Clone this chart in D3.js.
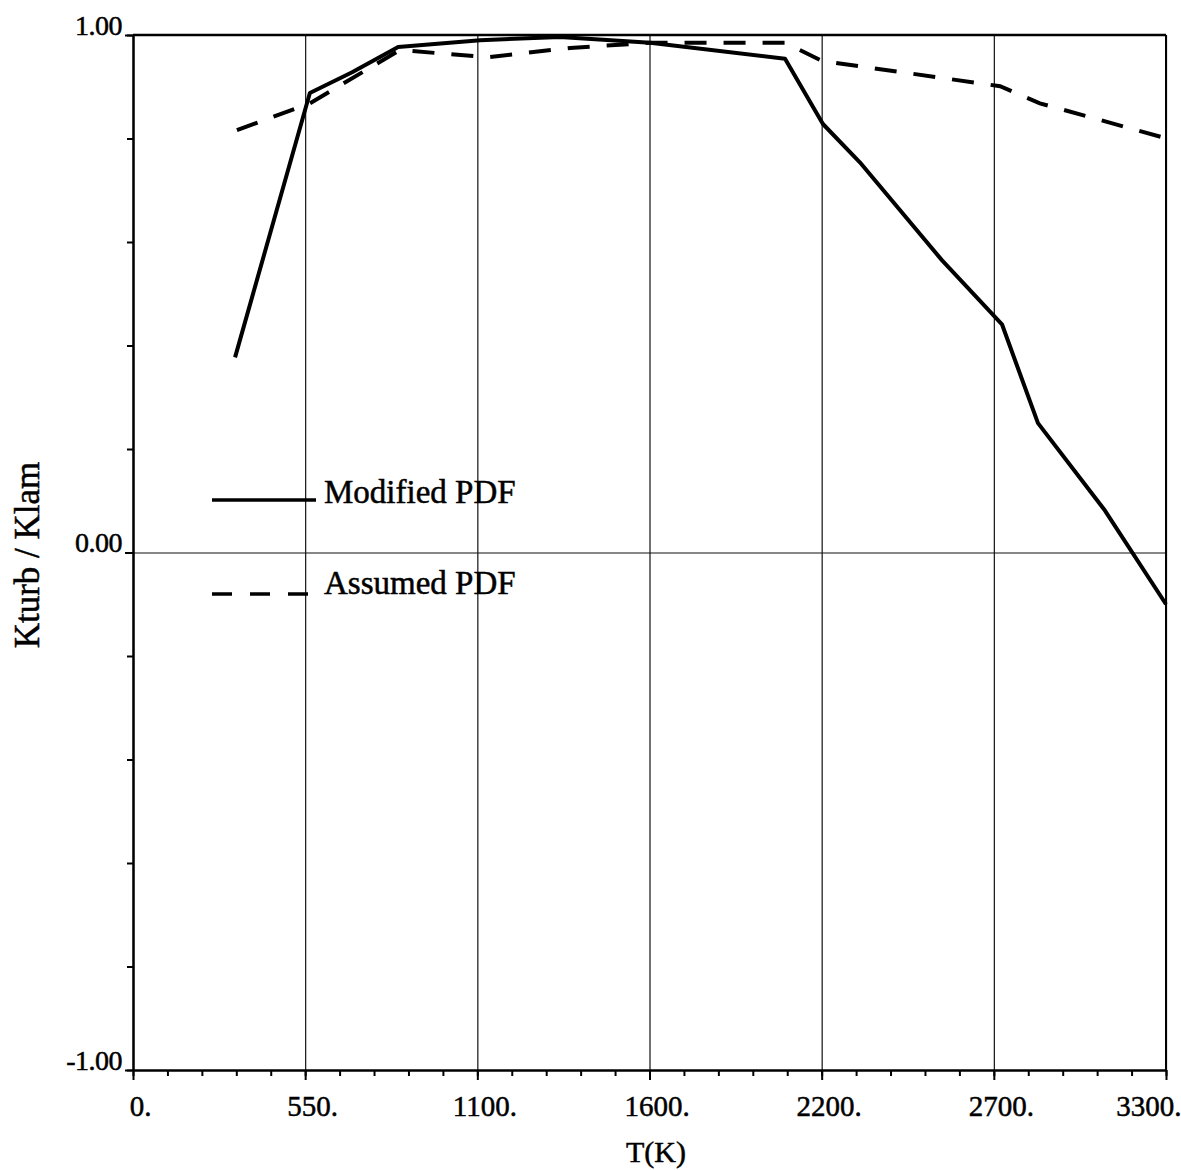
<!DOCTYPE html>
<html>
<head>
<meta charset="utf-8">
<script src="https://cdn.jsdelivr.net/npm/d3@7"></script>
<style>
	body { margin: 0; background: #fff; }
	svg, svg text { font-family: "Liberation Serif", "DejaVu Serif", serif; }
	svg text { fill: #000; stroke: #000; stroke-width: 0.5px; }
</style>
</head>
<body>
<div id="container"></div>
<script>
// values, T(K) vs Kturb/Klam
var modT = [326, 565, 700, 847, 1109, 1364, 1652, 2083, 2204, 2322, 2584, 2776, 2891, 3105, 3300];
var modK = [0.377, 0.888, 0.928, 0.977, 0.990, 0.996, 0.985, 0.954, 0.828, 0.754, 0.565, 0.441, 0.250, 0.081, -0.100];

var assT = [332, 565, 853, 1131, 1396, 1652, 2083, 2201, 2770, 2897, 3297];
var assK = [0.816, 0.868, 0.971, 0.957, 0.975, 0.985, 0.985, 0.950, 0.901, 0.868, 0.801];

var xTicks = [0, 550, 1100, 1650, 2200, 2750, 3300];
var xTickLabels = ["0.", "550.", "1100.", "1600.", "2200.", "2700.", "3300."];
var yTicks = [-1, 0, 1];
var yTickLabels = ["-1.00", "0.00", "1.00"];
var seriesNames = ["Modified PDF", "Assumed PDF"];

var width = 1181,
	height = 1170,
	plotLeft = 133,
	plotRight = 1166,
	plotTop = 35,
	plotBottom = 1070;

var xScale = d3.scaleLinear()
	.domain([0, 3300])
	.range([plotLeft, plotRight]);

var yScale = d3.scaleLinear()
	.domain([-1, 1])
	.range([plotBottom, plotTop]);

var svg = d3.select("#container")
	.append('svg')
		.attr("width", width)
		.attr("height", height);

// vertical grid lines
svg.append("g")
	.attr("transform", "translate(0," + plotBottom + ")")
	.call(d3.axisBottom(xScale).tickValues(xTicks).tickSize(-(plotBottom - plotTop)).tickFormat(""))
	.call(function(g){
		g.select(".domain").remove();
		g.selectAll("line").attr("stroke", "#111").attr("stroke-width", 1.2);
	});

// zero line
svg.append("g")
	.attr("transform", "translate(" + plotLeft + ",0)")
	.call(d3.axisLeft(yScale).tickValues([0]).tickSize(-(plotRight - plotLeft)).tickFormat(""))
	.call(function(g){
		g.select(".domain").remove();
		g.selectAll("line").attr("stroke", "#111").attr("stroke-width", 1.2);
	});

// minor ticks
svg.append("g")
	.attr("transform", "translate(0," + plotBottom + ")")
	.call(d3.axisBottom(xScale).tickValues(d3.range(0, 3301, 110)).tickSize(6).tickFormat(""))
	.call(function(g){
		g.select(".domain").remove();
		g.selectAll("line").attr("stroke", "#000").attr("stroke-width", 2);
	});
svg.append("g")
	.attr("transform", "translate(" + plotLeft + ",0)")
	.call(d3.axisLeft(yScale).tickValues(d3.range(-1, 1.01, 0.2)).tickSize(6).tickFormat(""))
	.call(function(g){
		g.select(".domain").remove();
		g.selectAll("line").attr("stroke", "#000").attr("stroke-width", 2);
	});

// main x axis
svg.append("g")
	.attr("transform", "translate(0," + plotBottom + ")")
	.call(d3.axisBottom(xScale).tickValues(xTicks).tickSize(10).tickSizeOuter(0).tickPadding(15)
		.tickFormat(function(d, i){ return xTickLabels[i]; }))
	.call(function(g){
		g.attr("font-family", null).attr("font-size", null);
		g.select(".domain").attr("stroke-width", 2.5);
		g.selectAll("line").attr("stroke-width", 2);
		g.selectAll("text")
			.style("font-size", "29px")
			.attr("dx", function(d, i){ return i == xTicks.length - 1 ? 15 : 7; })
			.attr("text-anchor", function(d, i){ return i == xTicks.length - 1 ? "end" : "middle"; });
	});

// main y axis
svg.append("g")
	.attr("transform", "translate(" + plotLeft + ",0)")
	.call(d3.axisLeft(yScale).tickValues(yTicks).tickSize(8).tickSizeOuter(0).tickPadding(3)
		.tickFormat(function(d, i){ return yTickLabels[i]; }))
	.call(function(g){
		g.attr("font-family", null).attr("font-size", null);
		g.select(".domain").attr("stroke-width", 2.5);
		g.selectAll("line").attr("stroke-width", 2);
		g.selectAll("text")
			.attr("dy", "-0.02em")
			.style("font-size", "28px")
			.style("letter-spacing", "-0.5px");
	});

// top + right frame
svg.append("line")
	.attr("x1", plotLeft).attr("x2", plotRight)
	.attr("y1", plotTop).attr("y2", plotTop)
	.attr("stroke", "#000").attr("stroke-width", 2.5);
svg.append("line")
	.attr("x1", plotRight).attr("x2", plotRight)
	.attr("y1", plotTop).attr("y2", plotBottom)
	.attr("stroke", "#000").attr("stroke-width", 2);

var line = d3.line()
	.x(function(d){ return xScale(d[0]); })
	.y(function(d){ return yScale(d[1]); });

svg.append("path")
	.datum(d3.zip(assT, assK))
	.attr("d", line)
	.attr("fill", "none")
	.attr("stroke", "#000")
	.attr("stroke-width", 4)
	.attr("stroke-dasharray", "22,17");

svg.append("path")
	.datum(d3.zip(modT, modK))
	.attr("d", line)
	.attr("fill", "none")
	.attr("stroke", "#000")
	.attr("stroke-width", 4)
	.attr("stroke-linejoin", "round");

// legend
var legend = svg.append("g");
legend.selectAll("line")
	.data(seriesNames)
	.enter().append("line")
		.attr("x1", 212).attr("x2", 316)
		.attr("y1", function(d, i){ return 500 + i * 94; })
		.attr("y2", function(d, i){ return 500 + i * 94; })
		.attr("stroke", "#000")
		.attr("stroke-width", 3.5)
		.attr("stroke-dasharray", function(d, i){ return i == 1 ? "20,18" : null; });
legend.selectAll("text")
	.data(seriesNames)
	.enter().append("text")
		.attr("x", 324)
		.attr("y", function(d, i){ return 503 + i * 91; })
		.style("font-size", "33px")
		.text(function(d){ return d; });

// axis titles
svg.append("text")
	.attr("x", 656)
	.attr("y", 1162)
	.attr("text-anchor", "middle")
	.style("font-size", "30px")
	.text("T(K)");

svg.append("text")
	.attr("transform", "translate(39," + 555 + ") rotate(-90)")
	.attr("text-anchor", "middle")
	.style("font-size", "35px")
	.text("Kturb / Klam");
</script>
</body>
</html>
